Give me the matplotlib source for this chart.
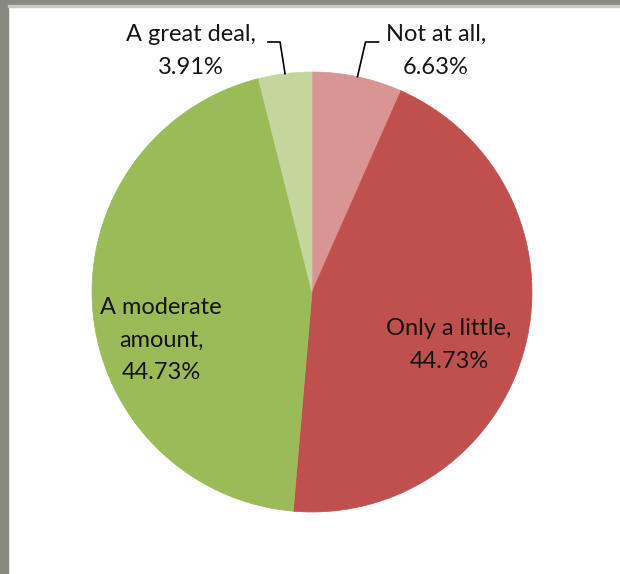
import numpy as np
import matplotlib; matplotlib.use('Agg')
import matplotlib.pyplot as plt
from matplotlib.patches import Rectangle

plt.rcParams['font.family'] = ['Lato', 'DejaVu Sans']

labels = ['Not at all', 'Only a little', 'A moderate amount', 'A great deal']
shares = [6.63, 44.73, 44.73, 3.91]
colors = ['#D99594', '#C0504D', '#9BBB59', '#C3D69B']

W, H = 620, 574
fig = plt.figure(figsize=(W/100, H/100), dpi=100, facecolor='white')
ax = fig.add_axes([0, 0, 1, 1])

# window frame
ax.add_patch(Rectangle((0, 0), 8, H, color='#878B7F', zorder=0))
ax.add_patch(Rectangle((0, 0), W, 3.5, color='#878B7F', zorder=0))
ax.add_patch(Rectangle((8, 5), W, 2, color='#C8C8C8', zorder=0))

# y axis runs downward (pixel-like), so start at -90 and go counterclockwise in data
cx, cy, r = 312, 292, 220
wedges, _ = ax.pie(shares, colors=colors, startangle=-90, counterclock=True,
                   center=(cx, cy), radius=r, frame=True,
                   wedgeprops=dict(linewidth=0))
for w, c in zip(wedges, colors):
    w.set_edgecolor(c); w.set_linewidth(0.5)
ax.set_xlim(0, W); ax.set_ylim(H, 0); ax.set_aspect('equal'); ax.axis('off')

fs = 17
tc = '#151515'
ls = 1.7
def edge(w):
    a = np.deg2rad((w.theta1 + w.theta2) / 2)
    return cx + r*np.cos(a), cy + r*np.sin(a)

# outer labels with leader lines
ex, ey = edge(wedges[3])
ax.plot([ex, ex-5, ex-17], [ey, 42, 42], color='black', lw=1.2)
ax.text(191, 51, f'{labels[3]},\n{shares[3]:.2f}%', ha='center', va='center',
        fontsize=fs, color=tc, linespacing=ls)
ex, ey = edge(wedges[0])
ax.plot([ex, ex+8, ex+21], [ey, 42, 42], color='black', lw=1.2)
ax.text(436, 51, f'{labels[0]},\n{shares[0]:.2f}%', ha='center', va='center',
        fontsize=fs, color=tc, linespacing=ls)

# inner labels
ax.text(161, 340, 'A moderate\namount,\n' + f'{shares[2]:.2f}%', ha='center', va='center',
        fontsize=fs, color=tc, linespacing=ls)
ax.text(449, 345, f'{labels[1]},\n{shares[1]:.2f}%', ha='center', va='center',
        fontsize=fs, color=tc, linespacing=ls)

fig.savefig('out.png', dpi=100, facecolor='white')
